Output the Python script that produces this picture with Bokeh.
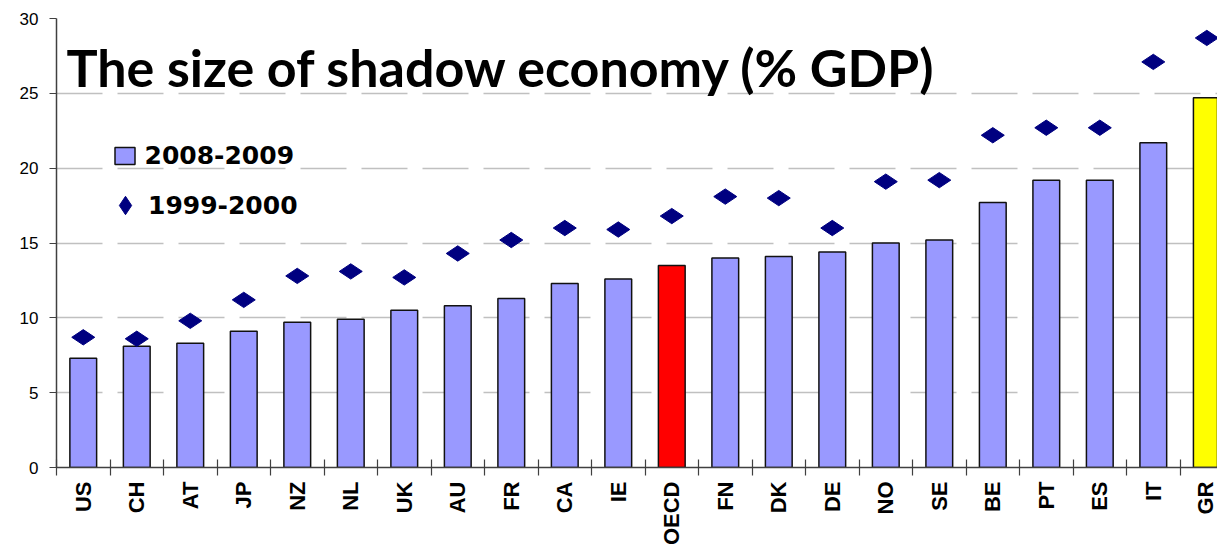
from bokeh.plotting import figure
from bokeh.models import (Range1d, FixedTicker, Label, Legend, LegendItem,
                          ColumnDataSource)
from bokeh.embed import file_html
from bokeh.resources import INLINE
import math

# ---- data ----
countries = ["US", "CH", "AT", "JP", "NZ", "NL", "UK", "AU", "FR", "CA", "IE",
             "OECD", "FN", "DK", "DE", "NO", "SE", "BE", "PT", "ES", "IT", "GR"]
size_2008_2009 = [7.3, 8.1, 8.3, 9.1, 9.7, 9.9, 10.5, 10.8, 11.3, 12.3, 12.6,
                  13.5, 14.0, 14.1, 14.4, 15.0, 15.2, 17.7, 19.2, 19.2, 21.7, 24.7]
size_1999_2000 = [8.7, 8.6, 9.8, 11.2, 12.8, 13.1, 12.7, 14.3, 15.2, 16.0, 15.9,
                  16.8, 18.1, 18.0, 16.0, 19.1, 19.2, 22.2, 22.7, 22.7, 27.1, 28.7]
y_ticks = [0, 5, 10, 15, 20, 25, 30]
title_text = "The size of shadow economy (% GDP)"
series_names = ["2008-2009", "1999-2000"]

highlight = {"OECD": "#FF0000", "GR": "#FFFF00"}
bar_colors = [highlight.get(c, "#9999FF") for c in countries]
xs = list(range(len(countries)))

src = ColumnDataSource(dict(x=xs, c=countries, v08=size_2008_2009,
                            v99=size_1999_2000, col=bar_colors))

p = figure(width=1217, height=548, output_backend="svg", toolbar_location=None,
           x_range=Range1d(-0.5, 21.2), y_range=Range1d(0, 30),
           min_border_left=56, min_border_right=0, min_border_top=18,
           min_border_bottom=81)
p.outline_line_color = None
p.background_fill_color = "white"

# grid
p.xgrid.grid_line_color = None
p.ygrid.ticker = FixedTicker(ticks=y_ticks)
p.ygrid.grid_line_color = "#c0c0c0"
p.ygrid.grid_line_width = 1.5
p.ygrid.grid_line_dash = "46 15"

bars = p.vbar(x="x", top="v08", width=0.5, source=src, fill_color="col",
              line_color="#111111", line_width=1.5)
dots = p.scatter(x="x", y="v99", source=src, marker="diamond", size=23,
                 angle=math.pi / 2, fill_color="#000080", line_color="#000080")

# y axis
ya = p.yaxis[0]
ya.ticker = FixedTicker(ticks=y_ticks)
ya.major_label_text_font = "Liberation Sans"
ya.major_label_text_font_size = "17px"
ya.major_label_text_color = "black"
ya.axis_line_color = "#404040"
ya.axis_line_width = 1.5
ya.major_tick_line_color = "#404040"
ya.major_tick_out = 7
ya.major_tick_in = 0
ya.minor_tick_line_color = None
ya.major_label_standoff = 11

# x axis: labels at centers, ticks at boundaries (minor ticks)
xa = p.xaxis[0]
xa.ticker = FixedTicker(ticks=xs, minor_ticks=[i - 0.5 for i in range(len(countries) + 1)])
xa.major_label_overrides = {i: c for i, c in enumerate(countries)}
xa.major_label_orientation = math.pi / 2
xa.major_label_text_font = "Liberation Sans"
xa.major_label_text_font_style = "bold"
xa.major_label_text_font_size = "22px"
xa.major_label_text_color = "black"
xa.major_tick_in = 0
xa.major_tick_out = 0
xa.minor_tick_in = 8
xa.minor_tick_out = 8
xa.minor_tick_line_color = "#404040"
xa.minor_tick_line_width = 1.2
xa.axis_line_color = "#404040"
xa.axis_line_width = 1.5
xa.major_label_standoff = 6

# title inside plot
p.add_layout(Label(x=10, y=401, x_units="screen", y_units="screen",
                   text=title_text, text_font="Lato", text_font_style="bold",
                   text_font_size="52px", text_color="black",
                   text_baseline="alphabetic"))

# legends
leg_font = dict(label_text_font="DejaVu Sans", label_text_font_style="bold",
                label_text_font_size="25px", label_text_color="black")
leg1 = Legend(items=[LegendItem(label=series_names[0], renderers=[bars], index=0)],
              location=(55.5, 297.5), glyph_width=25, glyph_height=21,
              label_standoff=8, padding=0, margin=0, spacing=0,
              border_line_color=None, background_fill_alpha=0, **leg_font)
leg2 = Legend(items=[LegendItem(label=series_names[1], renderers=[dots], index=0)],
              location=(46, 237), glyph_width=46, glyph_height=50,
              label_standoff=0, padding=0, margin=0, spacing=0,
              border_line_color=None, background_fill_alpha=0, **leg_font)
p.add_layout(leg1, "center")
p.add_layout(leg2, "center")

open("out.html", "w").write(file_html(p, INLINE))
